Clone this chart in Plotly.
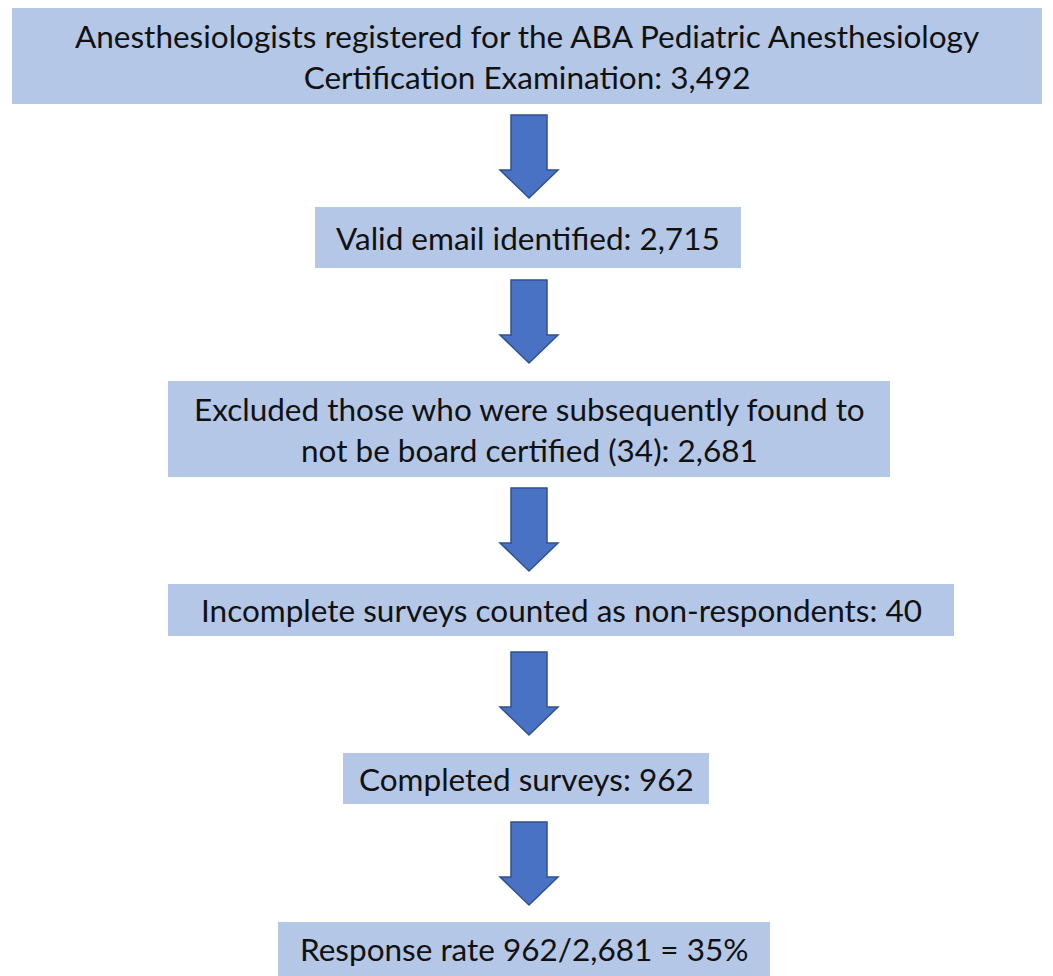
import plotly.graph_objects as go

# Flowchart content
step_labels = [
    "Anesthesiologists registered for the ABA Pediatric Anesthesiology<br>Certification Examination: 3,492",
    "Valid email identified: 2,715",
    "Excluded those who were subsequently found to<br>not be board certified (34): 2,681",
    "Incomplete surveys counted as non-respondents: 40",
    "Completed surveys: 962",
    "Response rate 962/2,681 = 35%",
]

# Layout geometry (pixels): x0, x1, y0, y1
box_x0 = [12, 315, 168, 168, 343, 278]
box_x1 = [1042, 741, 890, 954, 709, 770]
box_y0 = [8, 207, 381, 584, 753, 922]
box_y1 = [104, 268, 477, 636, 804, 980]

# arrows: top of shaft, tip
arrow_top = [115, 280, 488, 652, 822]
arrow_tip = [198, 363, 571, 735, 905]

W, H = 1053, 976
cx = 529
shaft_half = 18
head_half = 29
head_len = 28

fig = go.Figure()
shapes = []
for x0, x1, y0, y1 in zip(box_x0, box_x1, box_y0, box_y1):
    shapes.append(dict(type="rect", xref="x", yref="y", x0=x0, x1=x1, y0=y0, y1=y1,
                       fillcolor="#b4c7e7", line=dict(width=0), layer="below"))
for t, tip in zip(arrow_top, arrow_tip):
    hs = tip - head_len
    path = (f"M {cx-shaft_half},{t} L {cx+shaft_half},{t} L {cx+shaft_half},{hs} "
            f"L {cx+head_half},{hs} L {cx},{tip} L {cx-head_half},{hs} L {cx-shaft_half},{hs} Z")
    shapes.append(dict(type="path", xref="x", yref="y", path=path,
                       fillcolor="#4a72c4", line=dict(color="#2f528f", width=1.5)))

annotations = []
for lab, x0, x1, y0, y1 in zip(step_labels, box_x0, box_x1, box_y0, box_y1):
    yc = (y0 + min(y1, H)) / 2
    annotations.append(dict(x=(x0 + x1) / 2, y=yc, xref="x", yref="y", text=lab,
                            showarrow=False, align="center",
                            font=dict(family="Lato", size=31.5, color="#111111")))

fig.add_trace(go.Scatter(x=[0], y=[0], mode="markers", marker=dict(opacity=0), hoverinfo="skip", showlegend=False))
fig.update_layout(
    width=W, height=H, margin=dict(l=0, r=0, t=0, b=0),
    paper_bgcolor="white", plot_bgcolor="white",
    xaxis=dict(range=[0, W], visible=False, fixedrange=True),
    yaxis=dict(range=[H, 0], visible=False, fixedrange=True),
    shapes=shapes, annotations=annotations, showlegend=False,
)
fig.write_html("out.html", config={"displayModeBar": False},
               post_script="document.body.style.margin='0';document.body.style.overflow='hidden';")
